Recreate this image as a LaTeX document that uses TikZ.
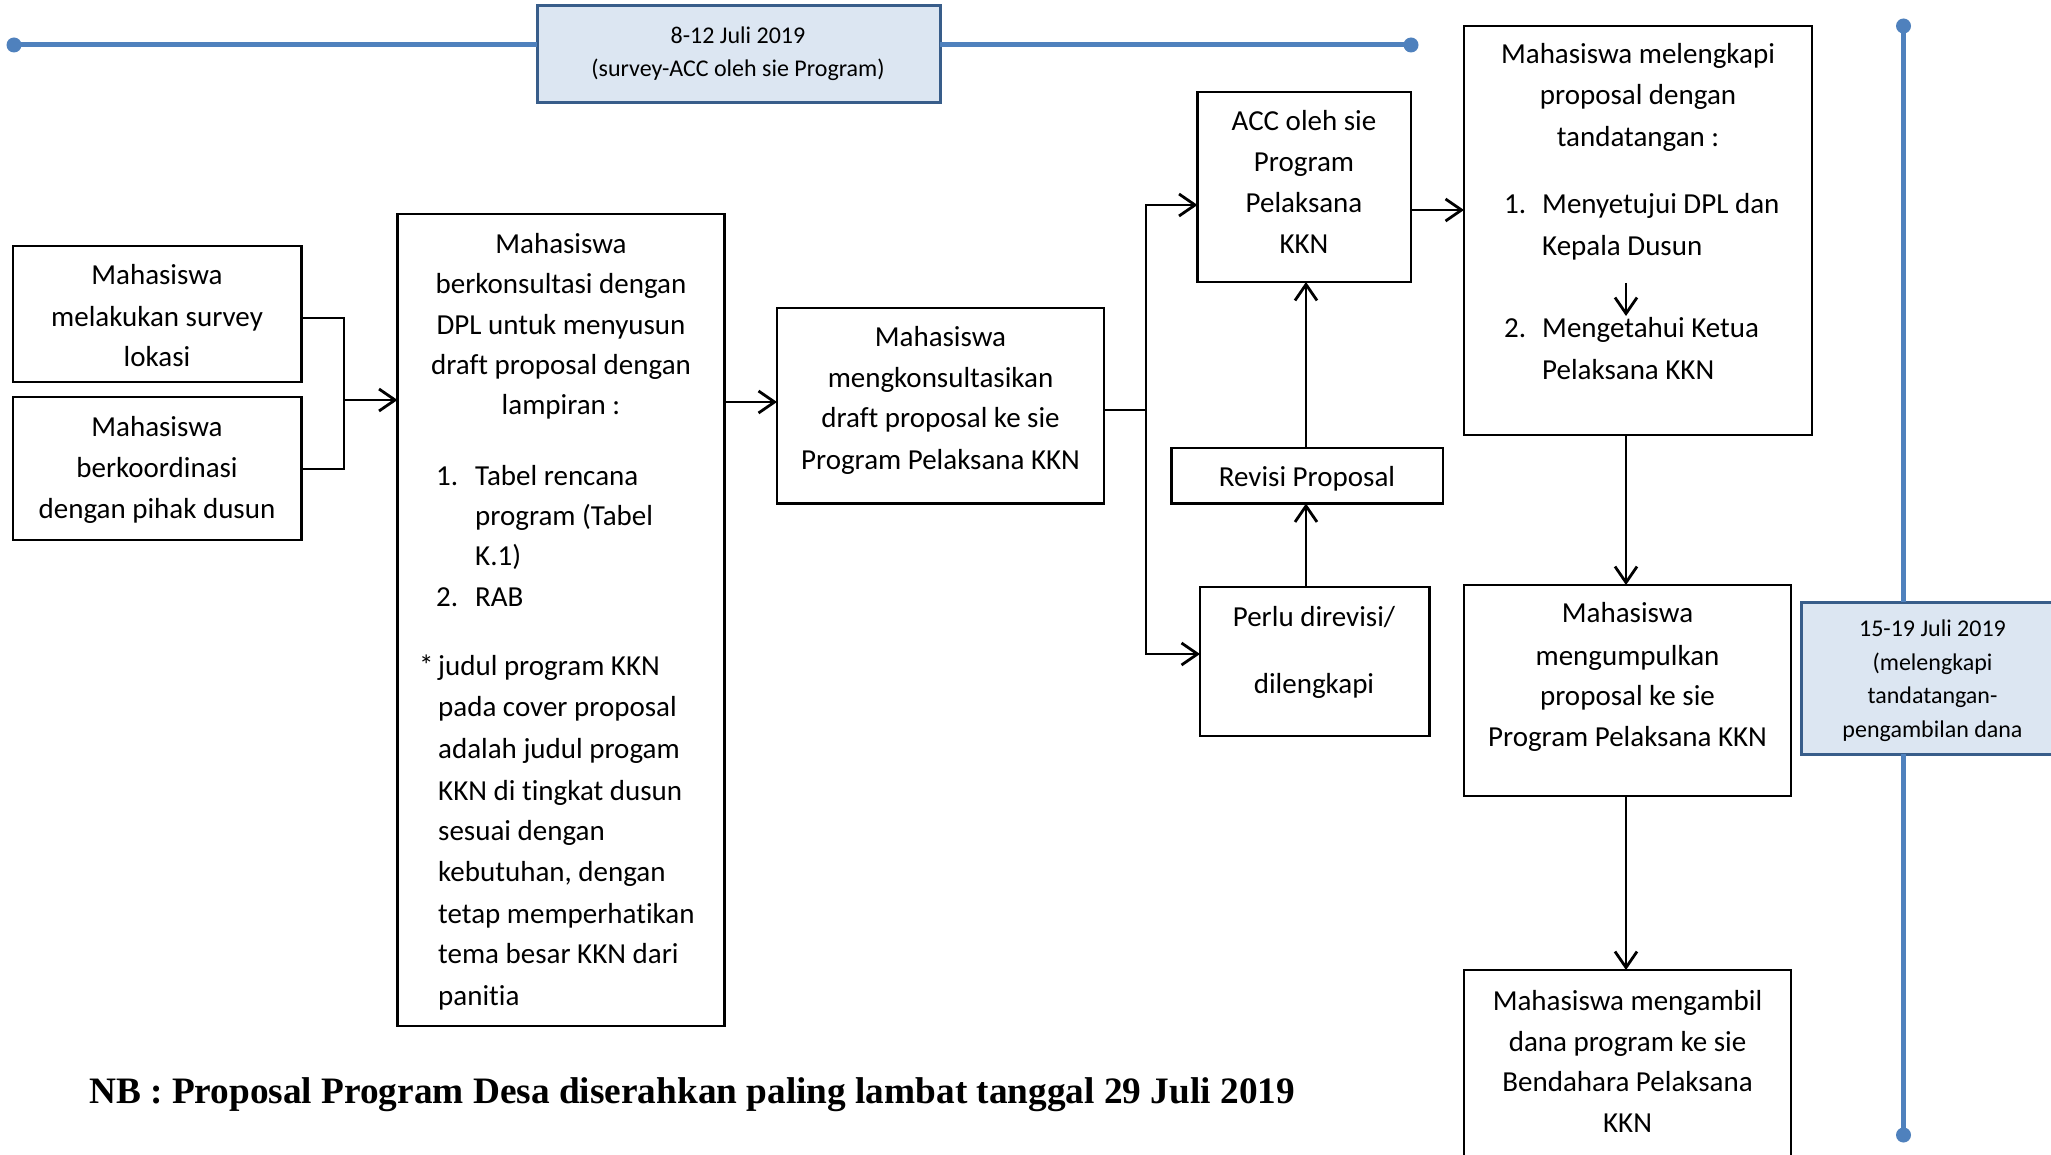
\documentclass[tikz,border=0pt]{standalone}
\usepackage{fontspec}
\setmainfont{Carlito}[Ligatures={NoCommon}]
\newfontfamily\nbfont{Liberation Serif}
\usetikzlibrary{arrows.meta,fit}
\definecolor{tlblue}{HTML}{4F81BD}
\definecolor{datefill}{HTML}{DCE6F2}
\definecolor{dateedge}{HTML}{385D8A}
\newcommand\lineC[4]{\node[txt,anchor=base] (#1) at (#2,#3) {#4};}
\newcommand\lineL[4]{\node[txt,anchor=base west] (#1) at (#2,#3) {#4};}
\newcommand\lineS[4]{\node[smalltxt,anchor=base] (#1) at (#2,#3) {#4};}
\begin{document}
\begin{tikzpicture}[x=1pt,y=-1pt,
  box/.style={draw=black, line width=2.8pt, inner sep=0pt, outer sep=0pt},
  datebox/.style={draw=dateedge, fill=datefill, line width=3pt, inner sep=0pt, outer sep=0pt},
  txt/.style={font=\fontsize{29}{41}\selectfont, inner sep=0pt, yshift=-8.5pt},
  smalltxt/.style={font=\fontsize{24}{33}\selectfont, inner sep=0pt, yshift=-7pt},
  dot/.style={circle, fill=tlblue, minimum size=15pt, inner sep=0pt},
  tl/.style={draw=tlblue, line width=5pt},
  conn/.style={draw=black, line width=2.8pt},
  arr/.style={conn, -{Straight Barb[length=16pt,width=22pt,line width=2.8pt]}}]
\clip (0,0) rectangle (2051,1155);
\fill[white] (0,0) rectangle (2051,1155);

% ---- top timeline
\node[dot] (d1) at (14,45) {};
\node[dot] (d2) at (1411,45) {};
\node[datebox, fit={(537,6) (940,103)}] (date1) {};
\draw[tl] (d1.center) -- (date1.west |- d1);
\draw[tl] (date1.east |- d2) -- (d2.center);
\lineS{dt1}{738}{37}{8-12 Juli 2019}
\lineS{dt2}{738}{70}{(survey-ACC oleh sie Program)}

% ---- right timeline
\node[dot] (d3) at (1903.5,26) {};
\node[dot] (d4) at (1903.5,1135) {};
\node[datebox, fit={(1801,602) (2064,754)}] (date2) {};
\draw[tl] (d3.center) -- (d3 |- date2.north);
\draw[tl] (d4 |- date2.south) -- (d4.center);
\lineS{du1}{1932.5}{629}{15-19 Juli 2019}
\lineS{du2}{1932.5}{663}{(melengkapi}
\lineS{du3}{1932.5}{696}{tandatangan-}
\lineS{du4}{1932.5}{730}{pengambilan dana}

% ---- boxes
\node[box, fit={(13,246) (301.5,382)}] (survey) {};
\node[box, fit={(13,397) (301.5,540)}] (koord) {};
\node[box, fit={(397.5,214) (724.5,1026)}] (konsul) {};
\node[box, fit={(777,308) (1104,503.5)}] (mk) {};
\node[box, fit={(1197.5,92) (1411,282)}] (acc) {};
\node[box, fit={(1171.5,448) (1443,503.5)}] (revisi) {};
\node[box, fit={(1200,587) (1429.5,736)}] (perlu) {};
\node[box, fit={(1464,26) (1812,435)}] (leng) {};
\node[box, fit={(1464,585) (1791,796)}] (kumpul) {};
\node[box, fit={(1464,970) (1791,1170)}] (ambil) {};

% ---- texts
\lineC{a1}{157}{276}{Mahasiswa}
\lineC{a2}{157}{318}{melakukan survey}
\lineC{a3}{157}{358}{lokasi}

\lineC{b1}{157}{428}{Mahasiswa}
\lineC{b2}{157}{469}{berkoordinasi}
\lineC{b3}{157}{510}{dengan pihak dusun}

\lineC{c1}{561}{245}{Mahasiswa}
\lineC{c2}{561}{285}{berkonsultasi dengan}
\lineC{c3}{561}{326.5}{DPL untuk menyusun}
\lineC{c4}{561}{366.5}{draft proposal dengan}
\lineC{c5}{561}{406.5}{lampiran :}
\lineL{c6}{436}{476.5}{1.}
\lineL{c7}{475}{476.5}{Tabel rencana}
\lineL{c8}{475}{516.5}{program (Tabel}
\lineL{c9}{475}{556.5}{K.1)}
\lineL{c10}{436}{598}{2.}
\lineL{c11}{475}{598}{RAB}
\lineL{c12}{419}{667}{*}
\lineL{c13}{438}{667}{judul program KKN}
\lineL{c14}{438}{708}{pada cover proposal}
\lineL{c15}{438}{750}{adalah judul progam}
\lineL{c16}{438}{792}{KKN di tingkat dusun}
\lineL{c17}{438}{832}{sesuai dengan}
\lineL{c18}{438}{873}{kebutuhan, dengan}
\lineL{c19}{438}{915}{tetap memperhatikan}
\lineL{c20}{438}{955}{tema besar KKN dari}
\lineL{c21}{438}{997}{panitia}

\lineC{e1}{940.5}{338}{Mahasiswa}
\lineC{e2}{940.5}{379}{mengkonsultasikan}
\lineC{e3}{940.5}{419}{draft proposal ke sie}
\lineC{e4}{940.5}{461}{Program Pelaksana KKN}

\lineC{f1}{1304}{122}{ACC oleh sie}
\lineC{f2}{1304}{163}{Program}
\lineC{f3}{1304}{204}{Pelaksana}
\lineC{f4}{1304}{245}{KKN}

\lineC{g1}{1307}{478}{Revisi Proposal}

\lineC{h1}{1314}{618}{Perlu direvisi/}
\lineC{h2}{1314}{685}{dilengkapi}

\lineC{k1}{1638}{55.5}{Mahasiswa melengkapi}
\lineC{k2}{1638}{96.5}{proposal dengan}
\lineC{k3}{1638}{138}{tandatangan :}
\lineL{k4}{1504}{205.5}{1.}
\lineL{k5}{1542}{205.5}{Menyetujui DPL dan}
\lineL{k6}{1542}{247}{Kepala Dusun}
\lineL{k7}{1504}{329}{2.}
\lineL{k8}{1542}{329}{Mengetahui Ketua}
\lineL{k9}{1542}{371}{Pelaksana KKN}

\lineC{m1}{1627.5}{614}{Mahasiswa}
\lineC{m2}{1627.5}{657}{mengumpulkan}
\lineC{m3}{1627.5}{697}{proposal ke sie}
\lineC{m4}{1627.5}{738}{Program Pelaksana KKN}

\lineC{n1}{1627.5}{1002}{Mahasiswa mengambil}
\lineC{n2}{1627.5}{1043}{dana program ke sie}
\lineC{n3}{1627.5}{1083}{Bendahara Pelaksana}
\lineC{n4}{1627.5}{1124}{KKN}

\node[anchor=base west, inner sep=0pt, font=\nbfont\bfseries\fontsize{37.3}{40}\selectfont] (nb) at (89,1103) {NB : Proposal Program Desa diserahkan paling lambat tanggal 29 Juli 2019};

% ---- connectors
\coordinate (j1) at (344,400);
\draw[conn] (survey.east |- 0,318) -| (j1) |- (koord.east |- 0,469);
\draw[arr] (j1) -- (konsul.west |- j1);
\coordinate (j2) at (724.5,402);
\draw[arr] (j2) -- (mk.west |- j2);
\coordinate (j3) at (1146,410);
\coordinate (j3a) at (1146,205);
\coordinate (j3b) at (1146,654);
\draw[conn] (mk.east |- j3) -- (j3);
\draw[conn, line cap=rect] (j3a) -- (j3b);
\draw[arr] (j3a) -- (acc.west |- j3a);
\draw[arr] (j3b) -- (perlu.west |- j3b);
\coordinate (rx) at (1306,0);
\draw[arr] (perlu.north -| rx) -- (revisi.south -| rx);
\draw[arr] (revisi.north -| rx) -- (acc.south -| rx);
\coordinate (j4) at (1411,210);
\draw[arr] (j4) -- (leng.west |- j4);
\coordinate (cx) at (1626,0);
\coordinate (i1) at (1626,283);
\coordinate (i2) at (1626,316);
\draw[arr] (i1) -- (i2);
\draw[arr] (leng.south -| cx) -- (kumpul.north -| cx);
\draw[arr] (kumpul.south -| cx) -- (ambil.north -| cx);
\end{tikzpicture}
\end{document}
